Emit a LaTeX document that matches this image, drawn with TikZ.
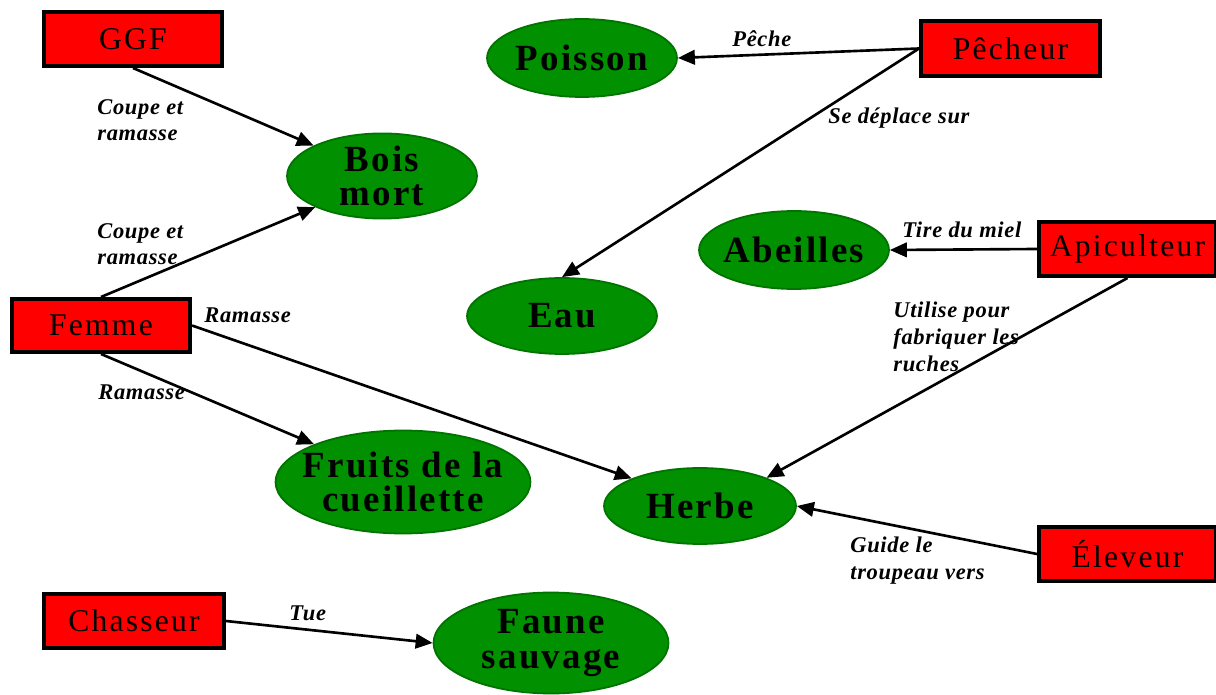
\documentclass[tikz,border=0pt]{standalone}
\usepackage{fontspec}
\setmainfont{Liberation Serif}
\newfontfamily\boitefont[LetterSpace=7]{Liberation Serif}
\newfontfamily\ressourcefont[LetterSpace=6]{Liberation Serif}
\newfontfamily\lienfont[LetterSpace=3]{Liberation Serif}
\usetikzlibrary{shapes,arrows.meta}
\definecolor{rouge}{RGB}{255,0,0}
\definecolor{vert}{RGB}{0,144,0}
\colorlet{vertfonce}{vert!80!black}

\begin{document}
\begin{tikzpicture}[x=0.02cm, y=-0.02cm,
acteur/.style={rectangle, draw=black, line width=2pt, fill=rouge, inner sep=0pt, font=\boitefont\fontsize{18}{20}\selectfont},
ressource/.style={ellipse, draw=vertfonce, line width=1pt, fill=vert, inner ysep=0pt, inner xsep=-0.3cm, align=center, font=\ressourcefont\bfseries\fontsize{21}{19.5}\selectfont},
lien/.style={inner sep=0pt, align=left, font=\lienfont\bfseries\itshape\fontsize{12.8}{15.2}\selectfont},
fleche/.style={-{Triangle[length=0.34cm,width=0.29cm]}, line width=1.5pt}]

\useasboundingbox (0,0) rectangle (1216,695);

% ACTEURS

\node [acteur, minimum width=3.57cm, minimum height=1.09cm] (ggf) at (133,39) {GGF};
\node [acteur, minimum width=3.59cm, minimum height=1.11cm] (pecheur) at (1010.5,48.5) {Pêcheur};
\node [acteur, minimum width=3.55cm, minimum height=1.09cm] (apiculteur) at (1127.5,249) {Apiculteur};
\node [acteur, minimum width=3.57cm, minimum height=1.07cm] (femme) at (101,325.5) {Femme};
\node [acteur, minimum width=3.55cm, minimum height=1.09cm] (eleveur) at (1127.5,554) {Éleveur};
\node [acteur, minimum width=3.61cm, minimum height=1.09cm] (chasseur) at (134,621) {Chasseur};

% RESSOURCES

\node [ressource, minimum width=3.8cm, minimum height=1.56cm] (poisson) at (582,58) {Poisson};
\node [ressource, minimum width=3.8cm, minimum height=1.62cm] (boismort) at (382,176) {Bois\\mort};
\node [ressource, minimum width=3.8cm, minimum height=1.56cm] (abeilles) at (794,250) {Abeilles};
\node [ressource, minimum width=3.8cm, minimum height=1.52cm] (eau) at (562,316) {Eau};
\node [ressource, minimum width=5.1cm, minimum height=2.06cm] (fruitscueillette) at (403,482) {Fruits de la\\cueillette};
\node [ressource, minimum width=3.84cm, minimum height=1.52cm] (herbe) at (700,506) {Herbe};
\node [ressource, minimum width=4.7cm, minimum height=2.02cm] (faunesauvage) at (551,643) {Faune\\sauvage};

% LIENS

\draw [fleche] (ggf.south) -- (boismort.156);
\draw [fleche] (femme.north) -- (boismort.205);
\draw [fleche] (femme.east) -- (herbe.158);
\draw [fleche] (femme.south) -- (fruitscueillette.157);
\draw [fleche] (pecheur.west) -- (poisson.east);
\draw [fleche] (pecheur.west) -- (eau.north);
\draw [fleche] (apiculteur.west) -- (abeilles.east);
\draw [fleche] (apiculteur.south) -- (herbe.23);
\draw [fleche] (eleveur.west) -- (herbe.east);
\draw [fleche] (chasseur.east) -- (faunesauvage.west);

\node [lien, anchor=north west] (coupeggf) at (97,99) {Coupe et\\ramasse};
\node [lien, anchor=north west] (coupefemme) at (97,223) {Coupe et\\ramasse};
\node [lien, anchor=base west] (ramasseherbe) at (204,323) {Ramasse};
\node [lien, anchor=base west] (ramassefruits) at (98,399) {Ramasse};
\node [lien, anchor=base west] (tue) at (289,620) {Tue};
\node [lien, anchor=base west] (peche) at (732,47) {Pêche};
\node [lien, anchor=base west] (deplace) at (828,124) {Se déplace sur};
\node [lien, anchor=base west] (miel) at (902,238) {Tire du miel};
\node [lien, anchor=north west] (ruches) at (893,302) {Utilise pour\\fabriquer les\\ruches};
\node [lien, anchor=north west] (troupeau) at (850,537) {Guide le\\troupeau vers};

\end{tikzpicture}
\end{document}
